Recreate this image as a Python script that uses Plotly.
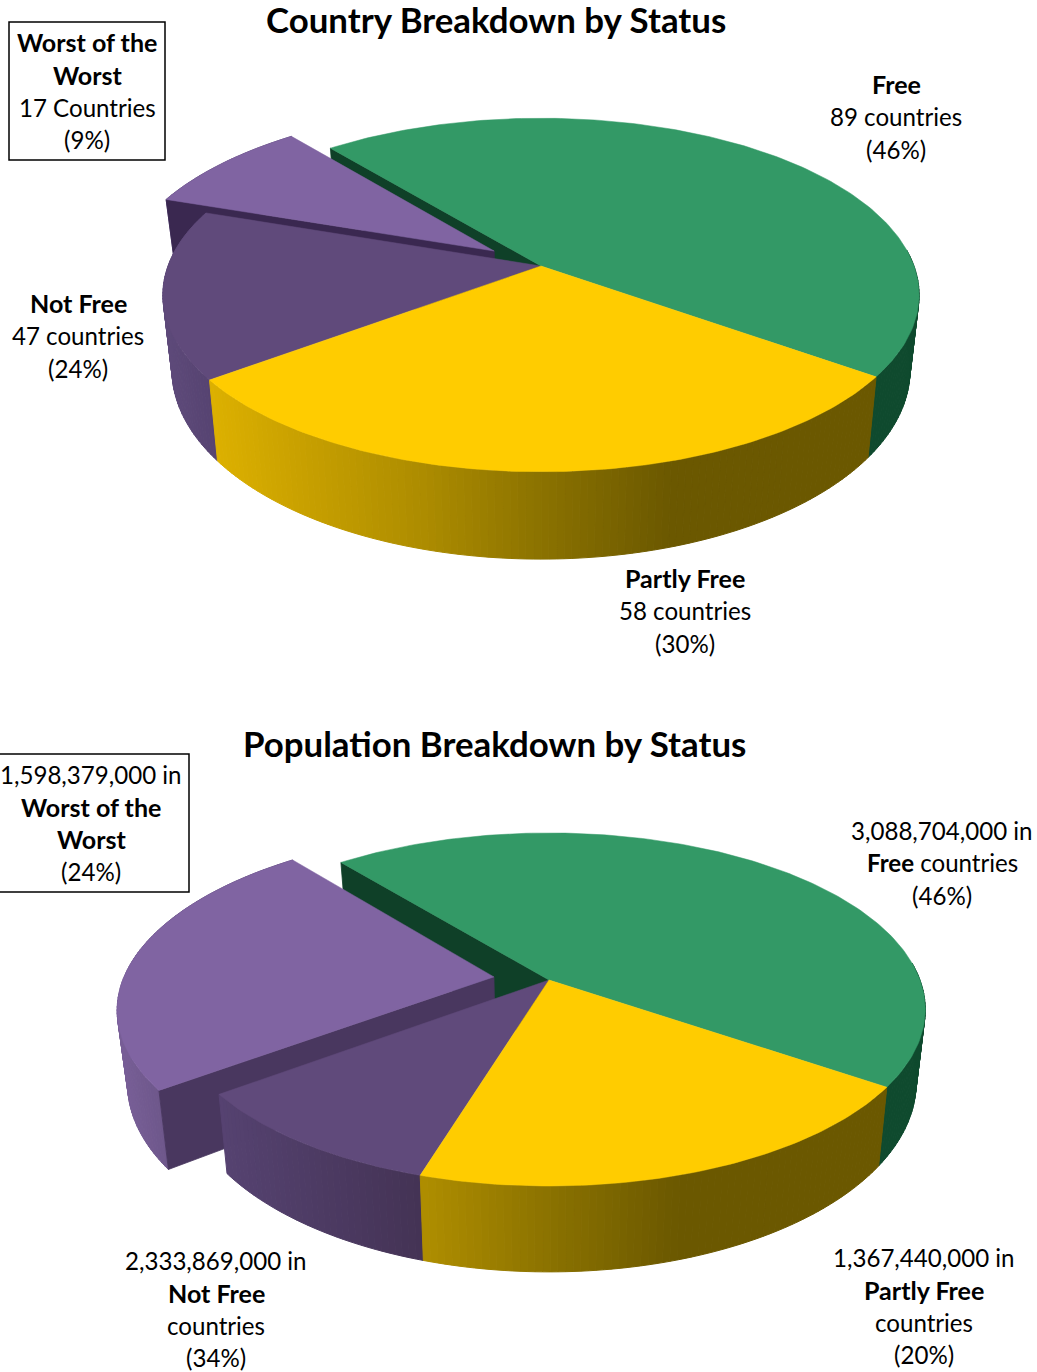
import math
import plotly.graph_objects as go

# ---------- data ----------
statuses = ["Free", "Partly Free", "Not Free (other)", "Worst of the Worst"]
country_counts = [89, 58, 30, 17]
# Slice sizes as read from the drawn angles: Not Free total stays 2,333,869,000,
# but the reference draws the exploded part a little larger than its label.
population_counts = [3088704000, 1367440000, 683000000, 1651000000]

country_title = "Country Breakdown by Status"
population_title = "Population Breakdown by Status"

country_labels = [
    ["<b>Free</b>", "89 countries", "(46%)"],
    ["<b>Partly Free</b>", "58 countries", "(30%)"],
    ["<b>Not Free</b>", "47 countries", "(24%)"],
    ["<b>Worst of the</b>", "<b>Worst</b>", "17 Countries", "(9%)"],
]
population_labels = [
    ["3,088,704,000 in", "<b>Free</b> countries", "(46%)"],
    ["1,367,440,000 in", "<b>Partly Free</b>", "countries", "(20%)"],
    ["2,333,869,000 in", "<b>Not Free</b>", "countries", "(34%)"],
    ["1,598,379,000 in", "<b>Worst of the</b>", "<b>Worst</b>", "(24%)"],
]

# ---------- styles ----------
FONT = "Lato"
TOP_COLORS = ["#339966", "#FFCC00", "#604A7B", "#8064A2"]
GREEN_SIDE = "#0F4A2E"
YELLOW_RAMP = [(-330, (0xDC, 0xB0, 0x00)), (-120, (0xAD, 0x8C, 0x00)),
               (10, (0x88, 0x70, 0x00)), (130, (0x6B, 0x58, 0x00)), (600, (0x6B, 0x58, 0x00))]
NF_RAMP = [(-380, (0x5E, 0x4A, 0x7A)), (-325, (0x55, 0x42, 0x70)), (-130, (0x44, 0x33, 0x55)),
           (600, (0x44, 0x33, 0x55))]
WORST_RAMP = [(-440, (0x7A, 0x60, 0x99)), (-380, (0x6B, 0x55, 0x88)), (600, (0x6B, 0x55, 0x88))]


def ramp(stops, off):
    if off <= stops[0][0]:
        c = stops[0][1]
    else:
        c = stops[-1][1]
        for (a, ca), (b, cb) in zip(stops, stops[1:]):
            if a <= off <= b:
                t = (off - a) / (b - a)
                c = tuple(ca[i] + (cb[i] - ca[i]) * t for i in range(3))
                break
    return "#%02X%02X%02X" % tuple(int(round(x)) for x in c)


def draw_pie(fig, values, geo):
    cx, y0, A, B, k, A2, B2, d, start, explode = (
        geo["cx"], geo["y0"], geo["A"], geo["B"], geo["k"],
        geo["A2"], geo["B2"], geo["d"], geo["start"], geo["explode"])

    def top(u, v):
        w = 1 - k * v
        return cx + A * u / w, y0 + B * v / w

    def bot(u, v):
        w = 1 - k * v
        return cx + A2 * u / w, y0 + d + B2 * v / w

    total = sum(values)
    spans = [v / total * 360 for v in values]
    angles = [start]
    for s in spans:
        angles.append(angles[-1] + s)

    def uv(deg, r=1.0, off=(0, 0)):
        t = math.radians(deg)
        return off[0] + r * math.sin(t), off[1] - r * math.cos(t)

    def arc(a0, a1):
        n = max(2, int(abs(a1 - a0) / 1.0))
        return [a0 + (a1 - a0) * i / n for i in range(n + 1)]

    def poly(xs, ys, color, lw=0.8):
        fig.add_trace(go.Scatter(x=xs, y=ys, mode="lines", fill="toself", fillcolor=color,
                                 line=dict(color=color, width=lw), hoverinfo="skip",
                                 showlegend=False))

    def side(a0, a1, off, colorf, vmin=-2.0):
        pts = [a for a in arc(a0, a1) if uv(a, off=off)[1] >= vmin]
        tops = [top(*uv(a, off=off)) for a in pts]
        bots = [bot(*uv(a, off=off)) for a in pts]
        # one strip per degree, in arc order, each overlapping the one before
        for i in range(len(pts) - 1):
            t0, t1, b1, b0 = tops[i], tops[i + 1], bots[i + 1], bots[i]
            col = colorf((t0[0] + t1[0]) / 2 - cx)
            poly([t0[0], t1[0], b1[0], b0[0], t0[0]],
                 [t0[1], t1[1], b1[1], b0[1], t0[1]], col, 1.0)

    def radial(deg, off, color):
        u0, v0 = off
        u1, v1 = uv(deg, off=off)
        pts = [top(u0, v0), top(u1, v1), bot(u1, v1), bot(u0, v0), top(u0, v0)]
        poly([p[0] for p in pts], [p[1] for p in pts], color)

    def face(a0, a1, off, color):
        pts = [top(*off)] + [top(*uv(a, off=off)) for a in arc(a0, a1)] + [top(*off)]
        poly([p[0] for p in pts], [p[1] for p in pts], color, 0.5)

    s_free, e_free = angles[0], angles[1]
    s_part, e_part = angles[1], angles[2]
    s_nf, e_nf = angles[2], angles[3]
    s_w, e_w = angles[3], angles[4]
    mid = (s_w + e_w) / 2
    off = uv(mid, r=explode)

    # green wall seen through the gap
    radial(s_free, (0, 0), geo["green_wall"])
    # exploded slice sits behind everything else
    side(s_w, e_w, off, lambda o: ramp(WORST_RAMP, o))
    radial(s_w, off, geo["worst_wall"])
    face(s_w, e_w, off, TOP_COLORS[3])
    # remaining rim (only the part of the green rim facing the viewer)
    side(s_free, e_free, (0, 0), lambda o: GREEN_SIDE, vmin=-0.1)
    side(s_nf, e_nf, (0, 0), lambda o: ramp(NF_RAMP, o))
    side(s_part, e_part, (0, 0), lambda o: ramp(YELLOW_RAMP, o))
    # top faces
    face(s_nf, e_nf, (0, 0), TOP_COLORS[2])
    face(s_free, e_free, (0, 0), TOP_COLORS[0])
    face(s_part, e_part, (0, 0), TOP_COLORS[1])


fig = go.Figure()

geo_top = dict(cx=541, y0=266, A=373, B=172, k=0.164, A2=364, B2=184, d=73,
               start=320.5, explode=0.155,
               green_wall="#0F4028", worst_wall="#3A2850")
geo_bottom = dict(cx=549, y0=980, A=371, B=171.6, k=0.167, A2=362, B2=184, d=71,
                  start=320.7, explode=0.15,
                  green_wall="#0F4028", worst_wall="#49375F")

draw_pie(fig, country_counts, geo_top)
draw_pie(fig, population_counts, geo_bottom)

annotations = []


def add_text(lines, x, ytop, size=24.1, step=32.6):
    for i, line in enumerate(lines):
        s = size
        if line.startswith("<b>") and line.endswith("</b>"):
            s = size * 1.04
        annotations.append(dict(x=x, y=ytop + i * step, text=line, showarrow=False,
                                xanchor="center", yanchor="middle",
                                font=dict(family=FONT, size=s, color="#000000")))


add_text(["<b>%s</b>" % country_title], 496, 19.5, size=33.5)
add_text(["<b>%s</b>" % population_title], 494, 743.5, size=33.5)

add_text(country_labels[0], 896, 84)
add_text(country_labels[1], 685, 578)
add_text(country_labels[2], 78, 303)
add_text(country_labels[3], 87, 42)

add_text(population_labels[0], 942, 830)
add_text(population_labels[1], 924, 1257)
add_text(population_labels[2], 216, 1260)
add_text(population_labels[3], 91, 774)

shapes = [
    dict(type="rect", x0=9, y0=22, x1=165, y1=160, line=dict(color="#000000", width=1.5),
         fillcolor="rgba(0,0,0,0)"),
    dict(type="rect", x0=-3, y0=754, x1=189, y1=892, line=dict(color="#000000", width=1.5),
         fillcolor="rgba(0,0,0,0)"),
]

fig.update_layout(
    width=1037, height=1372, margin=dict(l=0, r=0, t=0, b=0),
    paper_bgcolor="#FFFFFF", plot_bgcolor="#FFFFFF", showlegend=False,
    xaxis=dict(range=[0, 1037], visible=False, fixedrange=True),
    yaxis=dict(range=[1372, 0], visible=False, fixedrange=True),
    annotations=annotations, shapes=shapes,
)
fig.write_html("out.html", config={"displayModeBar": False},
               post_script="document.body.style.margin='0';document.body.style.overflow='hidden';")
